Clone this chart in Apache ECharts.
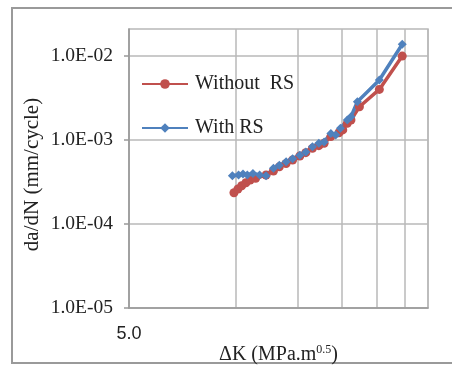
<!DOCTYPE html>
<html>
<head>
<meta charset="utf-8">
<script src="https://cdn.jsdelivr.net/npm/echarts@6/dist/echarts.min.js"></script>
<style>
  html, body { margin: 0; padding: 0; background: #fff; }
  #chart { width: 452px; height: 365px; }
</style>
</head>
<body>
<div id="chart"></div>
<script>
// ΔK (MPa.m^0.5) and da/dN (mm/cycle)
var dkWithout = [9.9, 10.16, 10.41, 10.7, 11.0, 11.4, 12.2, 12.8, 13.3, 13.9, 14.5, 15.2, 15.8, 16.5, 17.2, 17.8, 18.6, 19.6, 20.1, 20.7, 21.2, 22.4, 25.5, 29.6];
var rateWithout = [2.36e-4, 2.61e-4, 2.86e-4, 3.1e-4, 3.34e-4, 3.5e-4, 3.83e-4, 4.28e-4, 4.8e-4, 5.26e-4, 5.78e-4, 6.45e-4, 7.07e-4, 7.97e-4, 8.58e-4, 9.15e-4, 1.10e-3, 1.22e-3, 1.32e-3, 1.58e-3, 1.73e-3, 2.49e-3, 4.01e-3, 1.0e-2];

var dkWith = [9.8, 10.2, 10.5, 10.8, 11.2, 11.7, 12.2, 12.8, 13.3, 13.9, 14.5, 15.2, 15.8, 16.5, 17.2, 17.8, 18.6, 19.2, 19.8, 20.7, 21.2, 22.1, 25.5, 29.6];
var rateWith = [3.76e-4, 3.83e-4, 3.94e-4, 3.83e-4, 4.0e-4, 3.83e-4, 3.76e-4, 4.6e-4, 5.0e-4, 5.5e-4, 6.0e-4, 6.6e-4, 7.2e-4, 8.3e-4, 9.15e-4, 9.5e-4, 1.2e-3, 1.15e-3, 1.38e-3, 1.73e-3, 1.9e-3, 2.86e-3, 5.18e-3, 1.38e-2];

var xGrid = [5, 10, 15, 20, 25, 30, 35];
var xLabels = [5];
var yTicks = [1e-5, 1e-4, 1e-3, 1e-2];

var serif = 'Liberation Serif';

function pairs(xs, ys) {
    return xs.map(function (x, i) { return [x, ys[i]]; });
}

var chart = echarts.init(document.getElementById('chart'));

var option = {
    animation: false,
    backgroundColor: '#fff',
    // outer chart frame
    graphic: [{
        type: 'rect',
        shape: { x: 12, y: 8, width: 460, height: 355 },
        style: { fill: 'none', stroke: '#9a9a9a', lineWidth: 2 },
        silent: true
    }],
    grid: {
        left: 129, right: 24, top: 29, bottom: 57,
        outerBoundsMode: 'none',
        containLabel: false,
        show: true,
        borderColor: '#b8b8b8',
        borderWidth: 1.5
    },
    legend: {
        orient: 'vertical',
        left: 136,
        top: 69,
        itemWidth: 46,
        itemHeight: 12,
        itemGap: 24,
        textStyle: { fontFamily: serif, fontSize: 20, color: '#222', padding: [0, 0, 0, 2] },
        data: ['Without  RS', 'With RS']
    },
    xAxis: {
        type: 'log',
        min: 5,
        max: 35,
        name: '{n|ΔK (MPa.m}{s|0.5}{n|)}',
        nameLocation: 'middle',
        nameGap: 36,
        nameMoveOverlap: false,
        nameTextStyle: {
            rich: {
                n: { fontFamily: serif, fontSize: 20, color: '#222' },
                s: { fontFamily: serif, fontSize: 12, color: '#222', verticalAlign: 'top', padding: [0, 0, 9, 0] }
            }
        },
        axisLine: { show: true, lineStyle: { color: '#999', width: 1.5 } },
        axisTick: { show: false, customValues: xGrid },
        axisLabel: {
            customValues: xLabels,
            margin: 17,
            fontFamily: 'Liberation Sans',
            fontSize: 18,
            color: '#222',
            formatter: function (v) { return v.toFixed(1); }
        },
        splitLine: { show: true, lineStyle: { color: '#b8b8b8', width: 1.5 } }
    },
    yAxis: {
        type: 'log',
        min: 1e-5,
        max: 0.021,
        name: 'da/dN (mm/cycle)',
        nameLocation: 'middle',
        nameGap: 86,
        nameMoveOverlap: false,
        nameTextStyle: { fontFamily: serif, fontSize: 21, color: '#222', padding: [0, 12, 0, 0] },
        axisLine: { show: true, lineStyle: { color: '#999', width: 1.5 } },
        axisTick: { show: true, length: 5, customValues: yTicks, lineStyle: { color: '#999', width: 1.5 } },
        axisLabel: {
            customValues: yTicks,
            margin: 16,
            fontFamily: serif,
            fontSize: 19.5,
            color: '#222',
            formatter: function (v) {
                var e = Math.round(Math.log10(v));
                return '1.0E-' + (e < 0 && -e < 10 ? '0' + (-e) : -e);
            }
        },
        splitLine: { show: true, lineStyle: { color: '#b8b8b8', width: 1.5 } }
    },
    series: [
        {
            name: 'Without  RS',
            type: 'line',
            data: pairs(dkWithout, rateWithout),
            symbol: 'circle',
            symbolSize: 9,
            lineStyle: { color: '#c0504d', width: 3.5 },
            itemStyle: { color: '#c0504d' }
        },
        {
            name: 'With RS',
            type: 'line',
            data: pairs(dkWith, rateWith),
            symbol: 'diamond',
            symbolSize: 9,
            lineStyle: { color: '#4f81bd', width: 3.5 },
            itemStyle: { color: '#4f81bd' }
        }
    ]
};

chart.setOption(option);
</script>
</body>
</html>
